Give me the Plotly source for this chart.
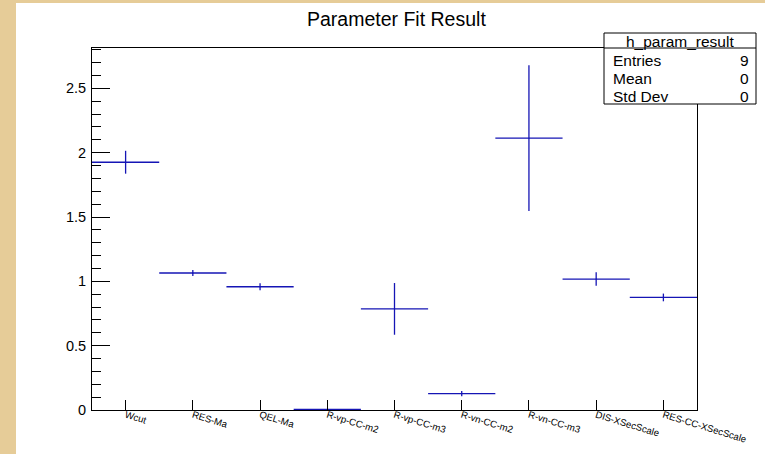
import plotly.graph_objects as go

# ---- data ----
categories = ["Wcut", "RES-Ma", "QEL-Ma", "R-vp-CC-m2", "R-vp-CC-m3",
              "R-vn-CC-m2", "R-vn-CC-m3", "DIS-XSecScale", "RES-CC-XSecScale"]
values = [1.926, 1.065, 0.958, 0.005, 0.786, 0.127, 2.113, 1.018, 0.875]
errors = [0.089, 0.023, 0.027, 0.003, 0.201, 0.02, 0.567, 0.053, 0.03]
stats_labels = ["Entries", "Mean", "Std Dev"]
stats_values = ["9", "0", "0"]
hist_name = "h_param_result"

W, H = 765, 454
L, R, T, B = 92, 697, 48, 410  # frame in pixels
pw, ph = R - L, B - T

def px(x):
    return (x - L) / pw

def py(y):
    return (B - y) / ph

centers = [i + 0.5 for i in range(len(categories))]
blue = "#1515b5"

fig = go.Figure()
fig.add_trace(go.Scatter(
    x=centers, y=values, mode="markers",
    marker=dict(size=1, color=blue),
    error_x=dict(type="constant", value=0.5, width=0, color=blue, thickness=1.3),
    error_y=dict(type="data", array=errors, width=0, color=blue, thickness=1.3),
    showlegend=False, hoverinfo="skip", cliponaxis=False,
))

font = "Liberation Sans, Arial, Helvetica, sans-serif"
ymax = max(v + e for v, e in zip(values, errors)) * 1.05

shapes = [
    # white canvas over beige background
    dict(type="rect", xref="paper", yref="paper", x0=px(16), x1=px(800), y0=py(470), y1=py(3),
         fillcolor="white", line=dict(width=0), layer="below"),
    # stats box
    dict(type="rect", xref="paper", yref="paper", x0=px(604), x1=px(756), y0=py(104), y1=py(33),
         fillcolor="white", line=dict(color="black", width=1), layer="above"),
    dict(type="line", xref="paper", yref="paper", x0=px(604), x1=px(756), y0=py(48), y1=py(48),
         line=dict(color="black", width=1), layer="above"),
]

annotations = [
    dict(text="Parameter Fit Result", x=px(396), y=py(19), xref="paper", yref="paper",
         showarrow=False, font=dict(family=font, size=19.5, color="black"),
         xanchor="center", yanchor="middle"),
    dict(text=hist_name, x=px(680), y=py(41), xref="paper", yref="paper",
         showarrow=False, font=dict(family=font, size=15.5, color="black"),
         xanchor="center", yanchor="middle"),
]
rows_y = [61, 78, 96]
for lab, val, yy in zip(stats_labels, stats_values, rows_y):
    annotations.append(dict(text=lab, x=px(611), y=py(yy), xref="paper", yref="paper",
                            showarrow=False, font=dict(family=font, size=15.5, color="black"),
                            xanchor="left", yanchor="middle"))
    annotations.append(dict(text=val, x=px(751), y=py(yy), xref="paper", yref="paper",
                            showarrow=False, font=dict(family=font, size=15.5, color="black"),
                            xanchor="right", yanchor="middle"))

fig.update_layout(
    width=W, height=H,
    margin=dict(l=L, r=W - R, t=T, b=H - B, pad=0, autoexpand=False),
    paper_bgcolor="#e6cc98",
    plot_bgcolor="white",
    shapes=shapes, annotations=annotations,
    xaxis=dict(range=[0, 9], tickvals=centers, ticktext=categories, automargin=False,
               ticks="inside", ticklen=10, tickcolor="black", tickwidth=1,
               showline=True, linecolor="black", linewidth=1, mirror=True,
               showgrid=False, zeroline=False, tickangle=17, ticklabelstandoff=-5,
               tickfont=dict(family=font, size=9.6, color="black")),
    yaxis=dict(range=[0, ymax], dtick=0.5, tick0=0, automargin=False,
               ticks="inside", ticklen=18, tickcolor="black", tickwidth=1,
               minor=dict(dtick=0.1, ticks="inside", ticklen=9, tickcolor="black", tickwidth=1),
               showline=True, linecolor="black", linewidth=1, mirror=True,
               showgrid=False, zeroline=False, ticklabelstandoff=2,
               tickfont=dict(family=font, size=14.5, color="black")),
)

fig.write_html("out.html", config={"displayModeBar": False, "staticPlot": True},
               post_script="document.body.style.margin='0';document.body.style.overflow='hidden';")
